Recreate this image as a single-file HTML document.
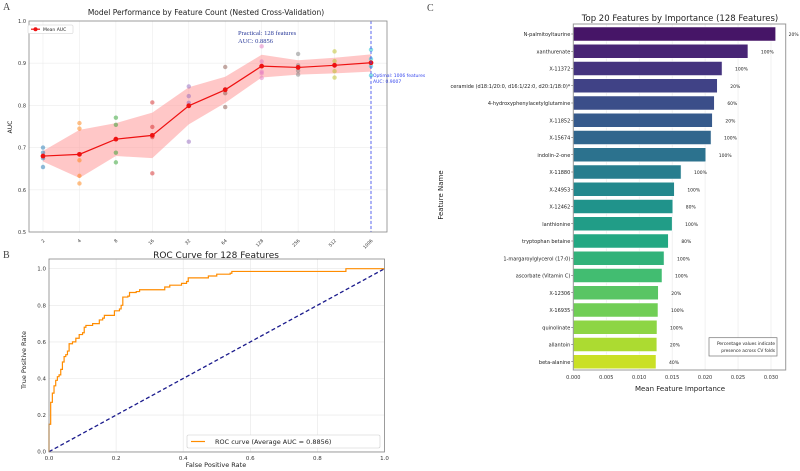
<!DOCTYPE html>
<html><head><meta charset="utf-8"><style>
body{margin:0;background:#fff;}
svg{display:block;font-family:"DejaVu Sans","Liberation Sans",sans-serif;}
</style></head><body>
<svg id="fig" width="800" height="471" viewBox="0 0 800 471" xmlns="http://www.w3.org/2000/svg">
<text x="3" y="10" font-family="Liberation Serif" font-size="10" fill="#444">A</text>
<text x="3" y="258" font-family="Liberation Serif" font-size="10" fill="#444">B</text>
<text x="427" y="11" font-family="Liberation Serif" font-size="10" fill="#444">C</text>
<g id="pa"></g>
<g id="pb"></g>
<g id="pc"></g>
</svg>
<script>
const NS="http://www.w3.org/2000/svg";
function el(p,t,a,txt){const e=document.createElementNS(NS,t);for(const k in a)e.setAttribute(k,a[k]);if(txt!==undefined)e.textContent=txt;p.appendChild(e);return e;}

// ---------- Panel A data ----------
const aCategories=["2","4","8","16","32","64","128","256","512","1006"];
const aMean=[0.680,0.684,0.720,0.729,0.799,0.837,0.893,0.890,0.895,0.901];
const aUpper=[0.692,0.742,0.758,0.783,0.843,0.868,0.920,0.907,0.913,0.921];
const aLower=[0.667,0.628,0.680,0.675,0.755,0.806,0.866,0.873,0.876,0.880];
const aFolds=[[0.700,0.688,0.675,0.654],[0.758,0.745,0.670,0.633,0.615],[0.771,0.754,0.688,0.665],[0.807,0.749,0.725,0.639],[0.845,0.822,0.806,0.714],[0.891,0.838,0.829,0.796],[0.940,0.904,0.880,0.876,0.865],[0.922,0.895,0.882,0.873],[0.928,0.905,0.881,0.866],[0.932,0.910,0.893,0.871]];
const aYTicks=[0.5,0.6,0.7,0.8,0.9,1.0];
const aColors=["#1f77b4","#ff7f0e","#2ca02c","#d62728","#9467bd","#8c564b","#e377c2","#7f7f7f","#bcbd22","#17becf"];

// ---------- Panel B data ----------
const rocFpr=[0,0,0.005,0.01,0.01,0.015,0.02,0.025,0.03,0.035,0.04,0.045,0.05,0.055,0.06,0.07,0.08,0.09,0.1,0.105,0.11,0.13,0.15,0.16,0.165,0.19,0.195,0.21,0.215,0.22,0.235,0.24,0.26,0.27,0.34,0.345,0.36,0.39,0.395,0.41,0.415,0.47,0.475,0.5,0.54,0.545,0.88,0.885,1];
const rocTpr=[0,0.15,0.27,0.27,0.32,0.36,0.39,0.41,0.42,0.45,0.49,0.52,0.53,0.55,0.59,0.60,0.62,0.64,0.65,0.68,0.69,0.70,0.72,0.73,0.745,0.745,0.77,0.78,0.80,0.845,0.85,0.87,0.875,0.885,0.885,0.90,0.91,0.91,0.92,0.93,0.95,0.95,0.96,0.97,0.975,0.985,0.985,1.0,1.0];
const bTicks=[0,0.2,0.4,0.6,0.8,1.0];

// ---------- Panel C data ----------
const cFeatures=["N-palmitoyltaurine","xanthurenate","X-11372","ceramide (d18:1/20:0, d16:1/22:0, d20:1/18:0)*","4-hydroxyphenylacetylglutamine","X-11852","X-15674","indolin-2-one","X-11880","X-24953","X-12462","lanthionine","tryptophan betaine","1-margaroylglycerol (17:0)","ascorbate (Vitamin C)","X-12306","X-16935","quinolinate","allantoin","beta-alanine"];
const cValues=[0.0307,0.0265,0.02257,0.02185,0.0214,0.0211,0.0209,0.0201,0.01635,0.01533,0.0151,0.0150,0.01442,0.01377,0.01346,0.0129,0.01285,0.0127,0.01268,0.01255];
const cPercents=["20%","100%","100%","20%","60%","20%","100%","100%","100%","100%","80%","100%","80%","100%","100%","20%","100%","100%","20%","40%"];
const cTicks=[0,0.005,0.010,0.015,0.020,0.025,0.030];

// ===== Panel A =====
(function(){
const g=document.getElementById('pa');
const L=29,R=387,T=21,B=232;
const x=i=>43+i*(371-43)/9;
const y=v=>B-(v-0.5)/0.5*(B-T);
el(g,'text',{x:206,y:15,'font-size':7.5,'text-anchor':'middle',fill:'#222'},'Model Performance by Feature Count (Nested Cross-Validation)');
el(g,'text',{x:12,y:127,'font-size':6,'text-anchor':'middle',transform:'rotate(-90 12 127)',fill:'#222'},'AUC');
aYTicks.forEach(t=>{el(g,'line',{x1:L,x2:R,y1:y(t),y2:y(t),stroke:'#ececec','stroke-width':0.6});
 el(g,'text',{x:L-3,y:y(t)+2,'font-size':5,'text-anchor':'end',fill:'#333'},t.toFixed(1));});
aCategories.forEach((c,i)=>{el(g,'line',{x1:x(i),x2:x(i),y1:T,y2:B,stroke:'#ececec','stroke-width':0.6});
 el(g,'text',{x:x(i)+2,y:B+9,'font-size':4.5,'text-anchor':'end',fill:'#333',transform:`rotate(-45 ${x(i)+2} ${B+9})`},c);});
let d='M'+aUpper.map((v,i)=>x(i)+','+y(v)).join('L')+'L'+aLower.map((v,i)=>x(i)+','+y(v)).reverse().join('L')+'Z';
const band=el(g,'path',{d:d,fill:'#ff9999','fill-opacity':0.55});


aFolds.forEach((arr,i)=>arr.forEach(v=>{const c=el(g,'circle',{cx:x(i),cy:y(v),r:2.2,fill:aColors[i],'fill-opacity':0.5});
 
 }));
const ln=el(g,'polyline',{points:aMean.map((v,i)=>x(i)+','+y(v)).join(' '),fill:'none',stroke:'#ee1111','stroke-width':1.2});


aMean.forEach((v,i)=>{const c=el(g,'circle',{cx:x(i),cy:y(v),r:2.4,fill:'#ee1111'});
 
 });
el(g,'line',{x1:x(9),x2:x(9),y1:T,y2:B,stroke:'#3344ee','stroke-width':0.8,'stroke-dasharray':'3,2'});
el(g,'rect',{x:L,y:T,width:R-L,height:B-T,fill:'none',stroke:'#888','stroke-width':0.8});
el(g,'rect',{x:28,y:25,width:45,height:8.5,fill:'#fff',stroke:'#ccc','stroke-width':0.5,rx:1});
el(g,'line',{x1:31,x2:40,y1:29.2,y2:29.2,stroke:'#ee1111','stroke-width':1.2});
el(g,'circle',{cx:35.5,cy:29.2,r:2,fill:'#ee1111'});
el(g,'text',{x:43,y:31,'font-size':4.5,fill:'#222'},'Mean AUC');
el(g,'text',{x:238,y:35,'font-size':6.5,'font-family':'Liberation Serif',fill:'#2a3a9a'},'Practical: 128 features');
el(g,'text',{x:238,y:43,'font-size':6.5,'font-family':'Liberation Serif',fill:'#2a3a9a'},'AUC: 0.8856');
el(g,'text',{x:373,y:77,'font-size':4.5,fill:'#3344ee'},'Optimal: 1006 features');
el(g,'text',{x:373,y:83,'font-size':4.5,fill:'#3344ee'},'AUC: 0.9007');
})();

// ===== Panel B =====
(function(){
const g=document.getElementById('pb');
const L=49,R=384.5,T=259,B=452;
const x=v=>L+v*(R-L);
const y=v=>451.7-v*(451.7-268.7);
el(g,'text',{x:216,y:258,'font-size':9,'text-anchor':'middle',fill:'#222'},'ROC Curve for 128 Features');
el(g,'text',{x:216,y:467,'font-size':6.5,'text-anchor':'middle',fill:'#222'},'False Positive Rate');
el(g,'text',{x:26,y:360,'font-size':6.5,'text-anchor':'middle',transform:'rotate(-90 26 360)',fill:'#222'},'True Positive Rate');
bTicks.forEach(t=>{
 el(g,'line',{x1:x(t),x2:x(t),y1:T,y2:B,stroke:'#e6e6e6','stroke-width':0.6});
 el(g,'line',{x1:L,x2:R,y1:y(t),y2:y(t),stroke:'#e6e6e6','stroke-width':0.6});
 el(g,'text',{x:x(t),y:B+8,'font-size':5.5,'text-anchor':'middle',fill:'#333'},t.toFixed(1));
 el(g,'text',{x:L-3,y:y(t)+2,'font-size':5.5,'text-anchor':'end',fill:'#333'},t.toFixed(1));});
const dg=el(g,'line',{x1:x(0),y1:y(0),x2:x(1),y2:y(1),stroke:'#1a1a8c','stroke-width':1.3,'stroke-dasharray':'4,2.5'});


let d='M'+x(rocFpr[0])+','+y(rocTpr[0]);
for(let i=1;i<rocFpr.length;i++){d+='H'+x(rocFpr[i])+'V'+y(rocTpr[i]);}
const rc=el(g,'path',{d:d,fill:'none',stroke:'#ff8c00','stroke-width':1.2});


el(g,'rect',{x:L,y:T,width:R-L,height:B-T,fill:'none',stroke:'#888','stroke-width':0.8});
el(g,'rect',{x:187,y:435,width:193,height:13,fill:'#fff',stroke:'#ccc','stroke-width':0.6,rx:1.5});
el(g,'line',{x1:191,x2:205,y1:441.5,y2:441.5,stroke:'#ff8c00','stroke-width':1.2});
el(g,'text',{x:215,y:444,'font-size':6.5,fill:'#222'},'ROC curve (Average AUC = 0.8856)');
})();

// ===== Panel C =====
(function(){
const g=document.getElementById('pc');
const L=573.3,R=785.7,T=24,B=370;
const x=v=>L+v/0.030*(771-L);
const y=i=>34+i*17.25;
const vir=[[68,1,84],[72,35,116],[64,67,135],[52,94,141],[41,120,142],[32,144,140],[34,167,132],[68,190,112],[121,209,81],[189,222,38],[253,231,37]];
function vc(t){const p=t*(vir.length-1),i=Math.min(Math.floor(p),vir.length-2),f=p-i;return 'rgb('+vir[i].map((c,k)=>Math.round(c+(vir[i+1][k]-c)*f)).join(',')+')';}
el(g,'text',{x:680,y:21,'font-size':8.5,'text-anchor':'middle',fill:'#222'},'Top 20 Features by Importance (128 Features)');
el(g,'text',{x:680,y:391,'font-size':7,'text-anchor':'middle',fill:'#222'},'Mean Feature Importance');
el(g,'text',{x:443,y:195,'font-size':7,'text-anchor':'middle',transform:'rotate(-90 443 195)',fill:'#222'},'Feature Name');
cTicks.forEach(t=>{el(g,'line',{x1:x(t),x2:x(t),y1:T,y2:B,stroke:'#e8e8e8','stroke-width':0.6});
 el(g,'text',{x:x(t),y:B+9,'font-size':5,'text-anchor':'middle',fill:'#333'},t.toFixed(3));});
cFeatures.forEach((f,i)=>{
 const b=el(g,'rect',{x:L,y:y(i)-7,width:x(cValues[i])-L,height:14,fill:vc(0.06+i*0.86/19),stroke:'#fff','stroke-width':0.5});
 
 
 el(g,'line',{x1:L-2,x2:L,y1:y(i),y2:y(i),stroke:'#333','stroke-width':0.5});
 el(g,'text',{x:L-3,y:y(i)+2,'font-size':5,'text-anchor':'end',fill:'#222'},f);
 el(g,'text',{x:x(cValues[i])+13,y:y(i)+2,'font-size':4.5,fill:'#222'},cPercents[i]);});
el(g,'rect',{x:L,y:T,width:R-L,height:B-T,fill:'none',stroke:'#999','stroke-width':1});
el(g,'rect',{x:709,y:337.7,width:68,height:18.3,fill:'#fff',stroke:'#777','stroke-width':0.7});
el(g,'text',{x:775,y:345,'font-size':4.3,'text-anchor':'end',fill:'#222'},'Percentage values indicate');
el(g,'text',{x:775,y:352,'font-size':4.3,'text-anchor':'end',fill:'#222'},'presence across CV folds');
})();
</script>
</body></html>
